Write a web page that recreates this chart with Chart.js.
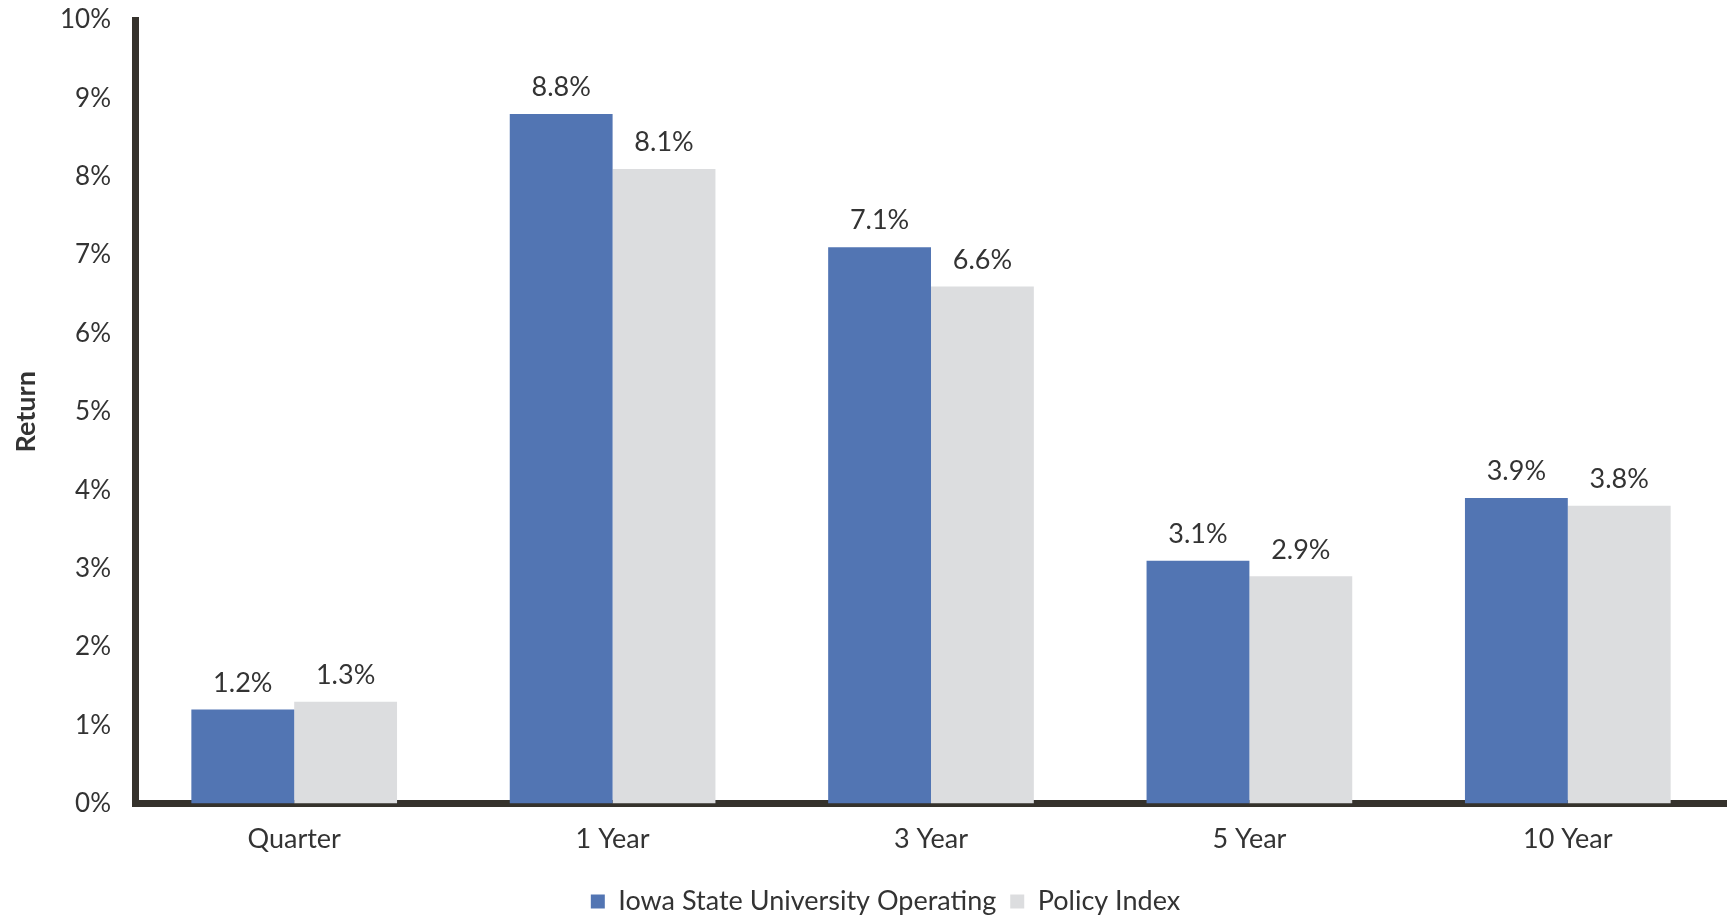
<!DOCTYPE html>
<html>
<head>
<meta charset="utf-8">
<script src="https://cdn.jsdelivr.net/npm/chart.js@4/dist/chart.umd.min.js"></script>
<style>
  html, body { margin: 0; padding: 0; background: #fff; }
  #wrap { width: 1727px; height: 916px; }
</style>
</head>
<body>
<div id="wrap"><canvas id="returns"></canvas></div>
<script>
const periods   = ['Quarter', '1 Year', '3 Year', '5 Year', '10 Year'];
const operating = [1.2, 8.8, 7.1, 3.1, 3.9];
const policy    = [1.3, 8.1, 6.6, 2.9, 3.8];
const colors = {
    operating : '#5275b3',
    policy    : '#dcdddf',
    axis      : '#35322c',
    text      : '#333333'
};
const fontFamily = "Lato, 'Open Sans', sans-serif";

// value labels above each bar
const barLabels = {
    id: 'barLabels',
    afterLayout(chart) {
        // legend sits a little right of the page centre in the original
        chart.legend.left += 22;
        chart.legend.right += 22;
    },
    afterDatasetsDraw(chart) {
        const ctx = chart.ctx;
        ctx.save();
        ctx.font = '27px ' + fontFamily;
        ctx.fillStyle = colors.text;
        ctx.textAlign = 'center';
        ctx.textBaseline = 'bottom';
        chart.data.datasets.forEach((ds, i) => {
            chart.getDatasetMeta(i).data.forEach((bar, j) => {
                ctx.fillText(ds.data[j].toFixed(1) + '%', bar.x, bar.y - 13);
            });
        });
        ctx.restore();
    }
};

const ctx = document.getElementById('returns').getContext('2d');
const returnsChart = new Chart(ctx, {
    type: 'bar',
    data: {
        labels: periods,
        datasets: [{
            label: 'Iowa State University Operating',
            data: operating,
            backgroundColor: colors.operating
        },
        {
            label: 'Policy Index',
            data: policy,
            backgroundColor: colors.policy
        }]
    },
    options: {
        responsive: true,
        maintainAspectRatio: false,
        animation: false,
        layout: { padding: { top: 0, right: 0, bottom: -9, left: 0 } },
        categoryPercentage: 0.646,
        barPercentage: 1,
        plugins: {
            legend: {
                position: 'bottom',
                labels: {
                    color: colors.text,
                    font: { family: fontFamily, size: 27 },
                    boxWidth: 14,
                    boxHeight: 14,
                    padding: 14
                }
            },
            tooltip: { enabled: false }
        },
        scales: {
            x: {
                grid: { display: false, drawTicks: false },
                border: { color: colors.axis, width: 7 },
                ticks: {
                    color: colors.text,
                    font: { family: fontFamily, size: 27 },
                    padding: 19
                }
            },
            y: {
                min: 0,
                max: 10,
                grid: { display: false, drawTicks: false },
                border: { color: colors.axis, width: 7 },
                ticks: {
                    stepSize: 1,
                    color: colors.text,
                    font: { family: fontFamily, size: 26, lineHeight: 1 },
                    padding: 24,
                    callback: v => v + '%'
                },
                title: {
                    display: true,
                    text: 'Return',
                    color: colors.text,
                    font: { family: fontFamily, size: 27, weight: 'bold' },
                    padding: { top: 10, bottom: 0 }
                },
                afterFit: scale => {
                    scale.width = 135;
                    scale.paddingTop = 20;
                    scale.paddingBottom = 0;
                }
            }
        }
    },
    plugins: [barLabels]
});
</script>
</body>
</html>
